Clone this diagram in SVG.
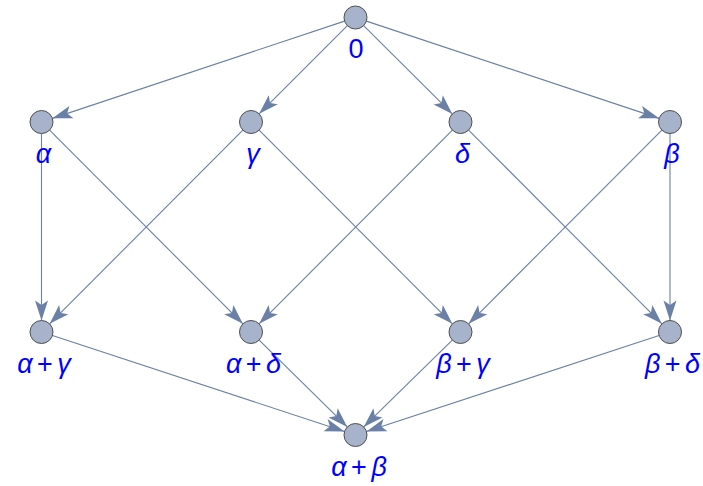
<svg xmlns="http://www.w3.org/2000/svg" width="703" height="486" viewBox="0 0 703 486">
<style>
.e{stroke:#6a80a6;stroke-width:1.1;fill:none;marker-end:url(#ah)}
.n{fill:#a6b3cb;stroke:#505050;stroke-width:1}
.l{font-family:"Liberation Sans","DejaVu Sans",sans-serif;font-size:27px;fill:#0000ff;text-anchor:middle;word-spacing:-3px}
.g{font-style:italic}
</style>
<defs>
<marker id="ah" markerUnits="userSpaceOnUse" markerWidth="24" markerHeight="16" viewBox="-22 -8 24 16" refX="0" refY="0" orient="auto">
<path d="M0,0 L-20,-6.5 L-15.5,0 L-20,6.5 Z" fill="#6a80a6"/>
</marker>
</defs>
<rect width="703" height="486" fill="#ffffff"/>
<g id="edges">
<line class="e" x1="344.59" y1="21.13" x2="52.41" y2="118.37"/>
<line class="e" x1="347.37" y1="25.63" x2="259.13" y2="113.87"/>
<line class="e" x1="363.65" y1="25.61" x2="452.35" y2="113.89"/>
<line class="e" x1="366.41" y1="21.13" x2="659.09" y2="118.37"/>
<line class="e" x1="41.5" y1="133.5" x2="41.5" y2="320.5"/>
<line class="e" x1="670" y1="133.5" x2="670" y2="320.5"/>
<line class="e" x1="49.62" y1="130.14" x2="242.88" y2="323.86"/>
<line class="e" x1="242.88" y1="130.14" x2="49.62" y2="323.86"/>
<line class="e" x1="259.12" y1="130.14" x2="452.38" y2="323.86"/>
<line class="e" x1="452.38" y1="130.14" x2="259.12" y2="323.86"/>
<line class="e" x1="468.62" y1="130.14" x2="661.88" y2="323.86"/>
<line class="e" x1="661.88" y1="130.14" x2="468.62" y2="323.86"/>
<line class="e" x1="52.43" y1="335.58" x2="344.57" y2="431.42"/>
<line class="e" x1="259.19" y1="340.07" x2="347.31" y2="426.93"/>
<line class="e" x1="452.29" y1="340.05" x2="363.71" y2="426.95"/>
<line class="e" x1="659.07" y1="335.58" x2="366.43" y2="431.42"/>
</g>
<g id="n0"><circle class="n" cx="355.5" cy="17.5" r="11.5"/><text class="l" x="356" y="58">0</text></g>
<g id="nalpha"><circle class="n" cx="41.5" cy="122" r="11.5"/><text class="l g" x="43.5" y="163">α</text></g>
<g id="ngamma"><circle class="n" cx="251" cy="122" r="11.5"/><text class="l g" x="253" y="163">γ</text></g>
<g id="ndelta"><circle class="n" cx="460.5" cy="122" r="11.5"/><text class="l g" x="462.5" y="163">δ</text></g>
<g id="nbeta"><circle class="n" cx="670" cy="122" r="11.5"/><text class="l g" x="672" y="163">β</text></g>
<g id="nag"><circle class="n" cx="41.5" cy="332" r="11.5"/><text class="l" x="44" y="373"><tspan class="g">α</tspan> + <tspan class="g">γ</tspan></text></g>
<g id="nad"><circle class="n" cx="251" cy="332" r="11.5"/><text class="l" x="253.5" y="373"><tspan class="g">α</tspan> + <tspan class="g">δ</tspan></text></g>
<g id="nbg"><circle class="n" cx="460.5" cy="332" r="11.5"/><text class="l" x="463" y="373"><tspan class="g">β</tspan> + <tspan class="g">γ</tspan></text></g>
<g id="nbd"><circle class="n" cx="670" cy="332" r="11.5"/><text class="l" x="672.5" y="373"><tspan class="g">β</tspan> + <tspan class="g">δ</tspan></text></g>
<g id="nab"><circle class="n" cx="355.5" cy="435" r="11.5"/><text class="l" x="359" y="476"><tspan class="g">α</tspan> + <tspan class="g">β</tspan></text></g>
</svg>
